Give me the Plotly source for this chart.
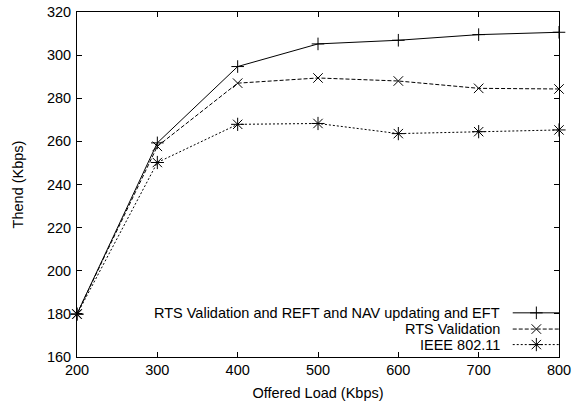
import plotly.graph_objects as go

offered_load = [200, 300, 400, 500, 600, 700, 800]
rts_reft_nav_eft = [180, 259.3, 294.7, 305.2, 306.9, 309.5, 310.6]
rts_validation = [180, 257.7, 287.0, 289.4, 288.0, 284.6, 284.3]
ieee_80211 = [179.8, 250.2, 267.9, 268.3, 263.6, 264.5, 265.3]

series_names = ["RTS Validation and REFT and NAV updating and EFT", "RTS Validation", "IEEE 802.11"]
x_ticks = [200, 300, 400, 500, 600, 700, 800]
y_ticks = [160, 180, 200, 220, 240, 260, 280, 300, 320]

FONT = "Liberation Sans, Arial, sans-serif"
FS = 14.5
styles = [
    dict(dash="solid", symbol="cross-thin-open", size=9),
    dict(dash="4px,2px", symbol="x-thin-open", size=9.5),
    dict(dash="2px,2px", symbol="asterisk-open", size=11),
]
data = [rts_reft_nav_eft, rts_validation, ieee_80211]

fig = go.Figure()
for name, ys, st in zip(series_names, data, styles):
    fig.add_trace(go.Scatter(
        x=offered_load, y=ys, mode="lines+markers", name=name,
        line=dict(color="black", width=1, dash=st["dash"]),
        marker=dict(symbol=st["symbol"], size=st["size"], color="black",
                    line=dict(color="black", width=1)),
        cliponaxis=False, showlegend=False,
    ))

# gnuplot-style key (text right, sample on the right)
key_rows = [0.128, 0.081, 0.036]
for name, st, ky in zip(series_names, styles, key_rows):
    fig.add_trace(go.Scatter(
        x=[0.904, 1.0], y=[ky, ky], mode="lines", xaxis="x2", yaxis="y2",
        line=dict(color="black", width=1, dash=st["dash"]), showlegend=False,
        cliponaxis=False, hoverinfo="skip"))
    fig.add_trace(go.Scatter(
        x=[0.953], y=[ky], mode="markers", xaxis="x2", yaxis="y2",
        marker=dict(symbol=st["symbol"], size=st["size"], color="black",
                    line=dict(color="black", width=1)),
        showlegend=False, cliponaxis=False, hoverinfo="skip"))
    fig.add_annotation(x=0.8826, y=ky, xref="paper", yref="paper", text=name,
                       showarrow=False, xanchor="right", yanchor="middle",
                       font=dict(family=FONT, size=FS, color="black"))

axis_common = dict(showline=True, linecolor="black", linewidth=1, mirror="ticks",
                   ticks="inside", ticklen=5, tickcolor="black", showgrid=False,
                   zeroline=False, automargin=False,
                   tickfont=dict(family=FONT, size=FS, color="black"))

fig.update_layout(
    width=584, height=407,
    margin=dict(l=77, r=25, t=12, b=50),
    paper_bgcolor="white", plot_bgcolor="white",
    showlegend=False,
    xaxis=dict(range=[200, 800], tickvals=x_ticks,
               title=dict(text="Offered Load (Kbps)", font=dict(family=FONT, size=FS, color="black"), standoff=10),
               **axis_common),
    yaxis=dict(range=[160, 320], tickvals=y_ticks, ticklabelstandoff=2,
               title=dict(text="Thend (Kbps)", font=dict(family=FONT, size=FS, color="black"), standoff=19),
               **axis_common),
    xaxis2=dict(overlaying="x", range=[0, 1], visible=False),
    yaxis2=dict(overlaying="y", range=[0, 1], visible=False),
)

fig.write_html("out.html")
